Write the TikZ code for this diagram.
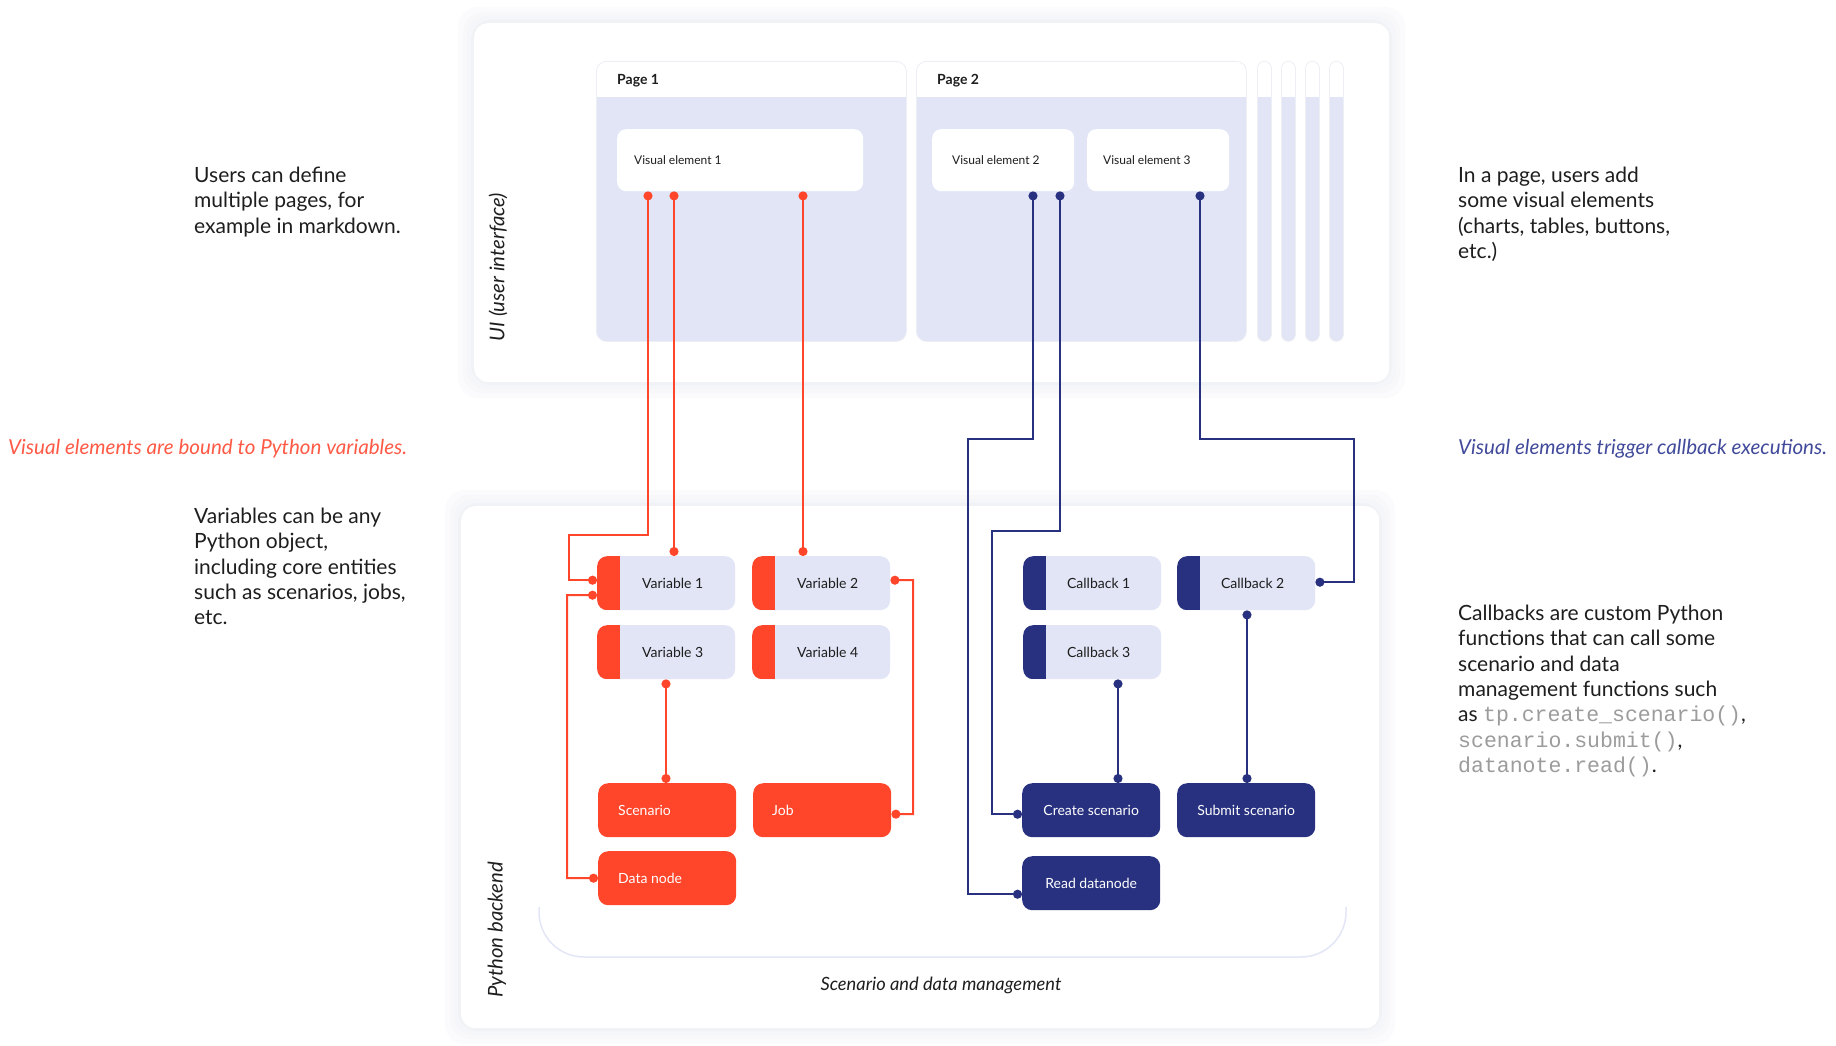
\documentclass[tikz,border=0pt]{standalone}
\usepackage{fontspec}
\setmainfont{Lato}
\setmonofont{Liberation Mono}
\usetikzlibrary{arrows.meta}

\definecolor{tred}{HTML}{FF462B}
\definecolor{tnavy}{HTML}{283180}
\definecolor{tlight}{HTML}{E2E5F6}
\definecolor{ink}{HTML}{1E1E1E}
\definecolor{capred}{HTML}{FF5A45}
\definecolor{capblue}{HTML}{414A9B}
\definecolor{codegray}{HTML}{9C9C9C}
\definecolor{halo1}{HTML}{FBFBFD}
\definecolor{halo2}{HTML}{F8F8FB}
\definecolor{halo3}{HTML}{F5F6F9}
\definecolor{halo4}{HTML}{F1F2F6}
\definecolor{pageedge}{HTML}{EEEFF5}
\definecolor{arcline}{HTML}{E3E6F7}

% soft halo around a panel: x1, y1, x2, y2
\newcommand\softhalo[4]{%
  \foreach \dd/\cc in {16/halo1,11/halo2,7/halo3,3/halo4}{%
    \fill[\cc, rounded corners=20pt] (#1-\dd,#2-\dd) rectangle (#3+\dd,#4+\dd);}}
\newcommand\codefont{\fontsize{21.5}{25.3}\selectfont\ttfamily\color{codegray}}

\begin{document}
\begin{tikzpicture}[x=1pt,y=-1pt,
  panel/.style={rectangle, anchor=north west, fill=white, rounded corners=14pt, inner sep=0pt},
  pagebox/.style={rectangle, anchor=north west, inner sep=0pt, fill=tlight, draw=pageedge,
    line width=0.8pt, rounded corners=#1, minimum height=280pt,
    path picture={\fill[white, sharp corners] (path picture bounding box.north west)
      rectangle ([yshift=-36pt]path picture bounding box.north east);}},
  pagetitle/.style={anchor=west, inner sep=0pt, font=\fontsize{14}{16}\selectfont\bfseries, text=ink},
  vebox/.style={rectangle, anchor=north west, inner sep=0pt, fill=white, rounded corners=9pt,
    minimum height=62pt, text=ink, font=\fontsize{12}{14}\selectfont},
  varbox/.style={rectangle, anchor=north west, inner sep=0pt, fill=tlight, rounded corners=10pt,
    minimum width=138pt, minimum height=54pt, text=ink, font=\fontsize{14}{16}\selectfont,
    path picture={\fill[#1, sharp corners] (path picture bounding box.south west)
      rectangle ([xshift=23pt]path picture bounding box.north west);}},
  solidbox/.style={rectangle, anchor=north west, inner sep=0pt, fill=#1, rounded corners=10pt,
    minimum width=138pt, minimum height=54pt, text=white, font=\fontsize{14}{16}\selectfont},
  rline/.style={draw=tred, line width=2pt, arrows={Circle[length=9pt]-Circle[length=9pt]}},
  bline/.style={draw=tnavy, line width=2pt, arrows={Circle[length=9pt]-Circle[length=9pt]}},
  note/.style={anchor=north west, inner sep=0pt, align=left, text=ink,
    font=\fontsize{21}{25.3}\selectfont},
  caption/.style={anchor=base west, inner sep=0pt, font=\fontsize{20.6}{24}\selectfont\itshape},
  sidelabel/.style={rotate=90, inner sep=0pt, text=ink, font=\fontsize{20.3}{22}\selectfont\itshape}
]
\useasboundingbox[fill=white] (0,0) rectangle (1836,1046);

% ---- panels ----
\softhalo{474}{23}{1389}{382}
\node[panel, minimum width=915pt, minimum height=359pt] (ui) at (474,23) {};
\softhalo{461}{506}{1379}{1028}
\node[panel, minimum width=918pt, minimum height=522pt] (backend) at (461,506) {};

\node[sidelabel] (uilabel) at (498,267) {UI (user interface)};
\node[sidelabel] (pylabel) at (497,930) {Python backend};

% ---- pages ----
\node[pagebox=10pt, minimum width=310pt] (page1) at (596,61) {};
\node[pagebox=10pt, minimum width=330pt] (page2) at (916,61) {};
\node[pagebox=7pt, minimum width=14pt] (page3) at (1257,61) {};
\node[pagebox=7pt, minimum width=14pt] (page4) at (1281,61) {};
\node[pagebox=7pt, minimum width=14pt] (page5) at (1305,61) {};
\node[pagebox=7pt, minimum width=14pt] (page6) at (1329,61) {};
\node[pagetitle] (p1title) at (617,81) {Page 1};
\node[pagetitle] (p2title) at (937,81) {Page 2};

\node[vebox, minimum width=246pt] (ve1) at (617,129) {\makebox[246pt][l]{\hspace*{17pt}Visual element 1}};
\node[vebox, minimum width=142pt] (ve2) at (932,129) {\makebox[142pt][l]{\hspace*{20pt}Visual element 2}};
\node[vebox, minimum width=142pt] (ve3) at (1087,129) {\makebox[142pt][l]{\hspace*{16pt}Visual element 3}};

% ---- backend entities ----
\node[varbox=tred] (v1) at (597,556) {\hspace*{13pt}Variable 1};
\node[varbox=tred] (v2) at (752,556) {\hspace*{13pt}Variable 2};
\node[varbox=tred] (v3) at (597,625) {\hspace*{13pt}Variable 3};
\node[varbox=tred] (v4) at (752,625) {\hspace*{13pt}Variable 4};
\node[solidbox=tred] (sc) at (598,783) {\makebox[138pt][l]{\hspace*{20pt}Scenario}};
\node[solidbox=tred] (job) at (753,783) {\makebox[138pt][l]{\hspace*{19pt}Job}};
\node[solidbox=tred] (dn) at (598,851) {\makebox[138pt][l]{\hspace*{20pt}Data node}};

\node[varbox=tnavy] (cb1) at (1023,556) {\hspace*{13pt}Callback 1};
\node[varbox=tnavy] (cb2) at (1177,556) {\hspace*{13pt}Callback 2};
\node[varbox=tnavy] (cb3) at (1023,625) {\hspace*{13pt}Callback 3};
\node[solidbox=tnavy] (cs) at (1022,783) {Create scenario};
\node[solidbox=tnavy] (ss) at (1177,783) {Submit scenario};
\node[solidbox=tnavy] (rd) at (1022,856) {Read datanode};

% scenario and data management bracket
\draw[arcline, line width=1.5pt, rounded corners=45pt] (539,907) -- (539,957) -- (1346,957) -- (1346,907);
\node[inner sep=0pt, text=ink, font=\fontsize{18.3}{20}\selectfont\itshape] (sdm) at (941,985) {Scenario and data management};

% ---- bindings (red) ----
\draw[rline] ([xshift=31pt]ve1.south west) |- (569,535) |- ([yshift=3pt]v1.west);
\draw[rline] ([xshift=57pt]ve1.south west) -- ([xshift=77pt]v1.north west);
\draw[rline] ([xshift=186pt]ve1.south west) -- ([xshift=51pt]v2.north west);
\draw[rline] ([yshift=-12pt]v1.west) -| (567,878) -- (dn.west);
\draw[rline] ([xshift=69pt]v3.south west) -- ([xshift=68pt]sc.north west);
\draw[rline] ([yshift=3pt]v2.east) -| (913,814) -- ([yshift=-4pt]job.east);

% ---- callbacks (navy) ----
\draw[bline] ([xshift=101pt]ve2.south west) |- (968,439) |- ([yshift=-11pt]rd.west);
\draw[bline] ([xshift=128pt]ve2.south west) |- (992,531) |- ([yshift=-4pt]cs.west);
\draw[bline] ([xshift=113pt]ve3.south west) |- (1354,439) |- ([yshift=1pt]cb2.east);
\draw[bline] ([xshift=95pt]cb3.south west) -- ([xshift=96pt]cs.north west);
\draw[bline] ([xshift=70pt]cb2.south west) -- ([xshift=70pt]ss.north west);

% ---- side notes ----
\node[note] (n1) at (194,167) {Users can define\\multiple pages, for\\example in markdown.};
\node[note] (n2) at (194,508) {Variables can be any\\Python object,\\including core entities\\such as scenarios, jobs,\\etc.};
\node[note] (n3) at (1458,167) {In a page, users add\\some visual elements\\(charts, tables, buttons,\\etc.)};
\node[note] (n4) at (1458,605) {Callbacks are custom Python\\functions that can call some\\scenario and data\\management functions such\\as {\codefont tp.create\_scenario()},\\{\codefont scenario.submit()},\\{\codefont datanote.read()}.};
\node[caption, text=capred] (c1) at (8,454) {Visual elements are bound to Python variables.};
\node[caption, text=capblue] (c2) at (1458,454) {Visual elements trigger callback executions.};
\end{tikzpicture}
\end{document}
